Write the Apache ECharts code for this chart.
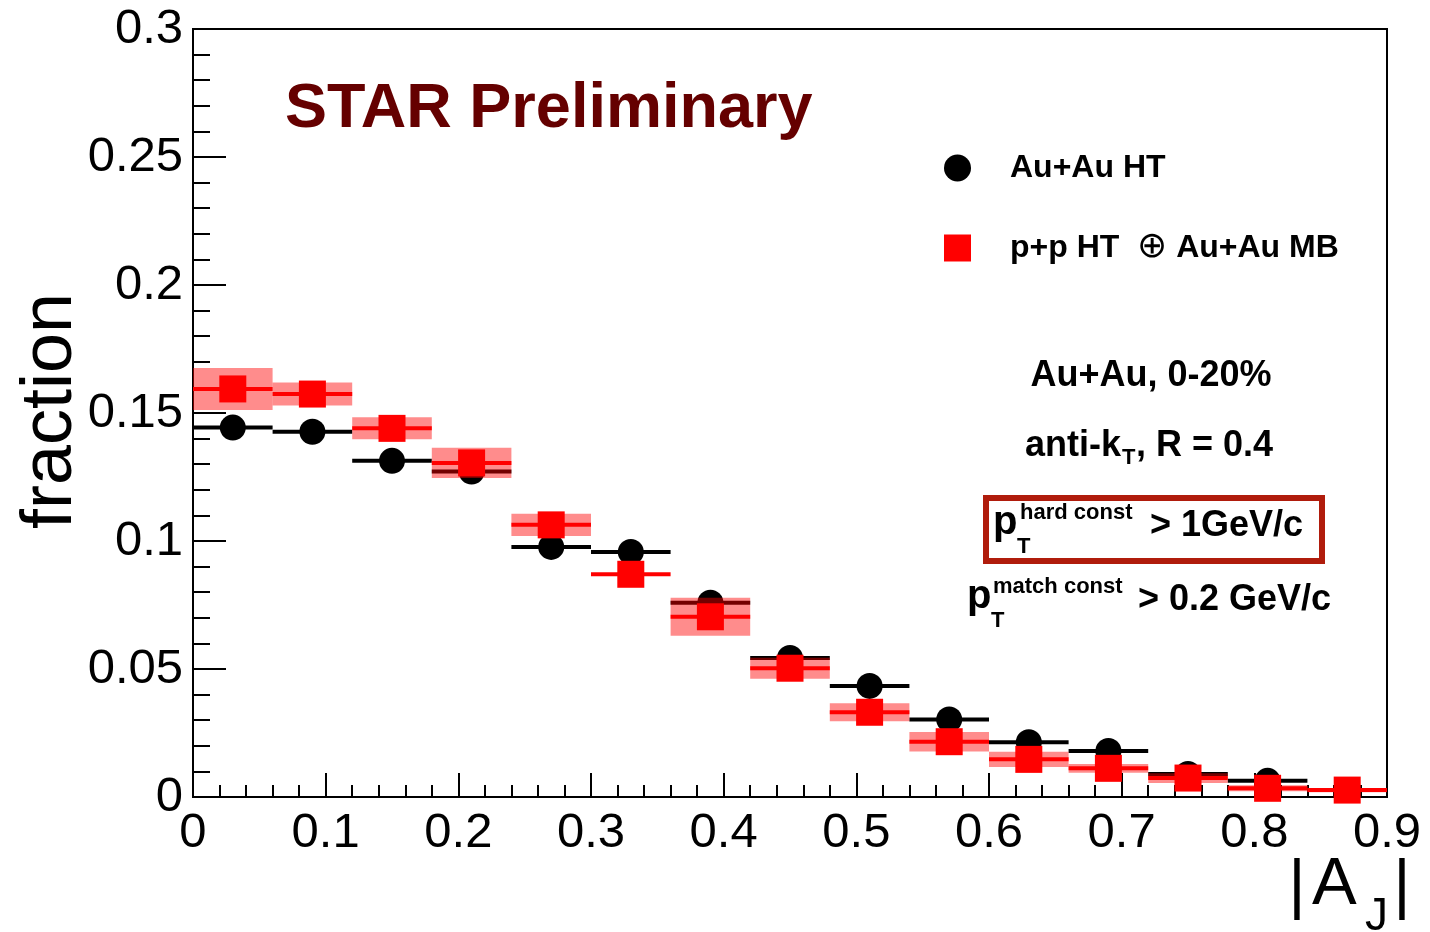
<!DOCTYPE html>
<html>
<head>
<meta charset="utf-8">
<title>|A_J| distribution</title>
<script src="https://cdn.jsdelivr.net/npm/echarts@6/dist/echarts.min.js"></script>
<style>
  html, body { margin: 0; padding: 0; background: #fff; }
  #chart { width: 1430px; height: 932px; }
</style>
</head>
<body>
<div id="chart"></div>
<script>
// |A_J| bin edges (width 0.06)
const binEdges = [0, 0.06, 0.12, 0.18, 0.24, 0.30, 0.36, 0.42, 0.48, 0.54, 0.60, 0.66, 0.72, 0.78, 0.84, 0.90];

// Au+Au HT fraction per bin
const auauHT = [0.1443, 0.1427, 0.1313, 0.1271, 0.0977, 0.0957, 0.0759, 0.0543, 0.0434, 0.0303, 0.0214, 0.0180, 0.0090, 0.0063, 0.0027];

// p+p HT embedded in Au+Au MB fraction per bin, with systematic half-widths
const ppEmbed = [0.1594, 0.1574, 0.1440, 0.1305, 0.1063, 0.0870, 0.0704, 0.0503, 0.0331, 0.0216, 0.0147, 0.0112, 0.0074, 0.0034, 0.0027];
const ppEmbedSys = [0.0082, 0.0045, 0.0043, 0.0059, 0.0043, 0.0, 0.0074, 0.0041, 0.0035, 0.0038, 0.0030, 0.0017, 0.0019, 0.0012, 0.0008];

// tick labels
const xTickLabels = ['0', '0.1', '0.2', '0.3', '0.4', '0.5', '0.6', '0.7', '0.8', '0.9'];
const yTickLabels = ['0', '0.05', '0.1', '0.15', '0.2', '0.25', '0.3'];

const seriesNames = ['Au+Au HT', 'p+p HT  \u2295 Au+Au MB'];

const FONT = '"Liberation Sans", Helvetica, Arial, sans-serif';

// rows: [xLow, xHigh, value, sys]
function binRows(values, sys) {
  return values.map((v, i) => [binEdges[i], binEdges[i + 1], v, sys ? sys[i] : 0]);
}
function centerPoints(values) {
  return values.map((v, i) => [(binEdges[i] + binEdges[i + 1]) / 2, v]);
}

function hLine(color) {
  return function (params, api) {
    const a = api.coord([api.value(0), api.value(2)]);
    const b = api.coord([api.value(1), api.value(2)]);
    return {
      type: 'line',
      shape: { x1: a[0], y1: a[1], x2: b[0], y2: b[1] },
      style: { stroke: color, lineWidth: 4 }
    };
  };
}

function sysBox(params, api) {
  const s = api.value(3);
  if (!s) return null;
  const tl = api.coord([api.value(0), api.value(2) + s]);
  const br = api.coord([api.value(1), api.value(2) - s]);
  return {
    type: 'rect',
    shape: { x: tl[0], y: tl[1], width: br[0] - tl[0], height: br[1] - tl[1] },
    style: { fill: 'rgba(255,0,0,0.45)' }
  };
}

function txt(x, y, text, size, opts) {
  opts = opts || {};
  return {
    type: 'text', x: x, y: y, z: 100,
    rotation: opts.rotation || 0,
    style: {
      text: text,
      fontFamily: opts.family || FONT,
      fontSize: size,
      fontWeight: opts.weight || 'bold',
      fill: opts.color || '#000',
      align: opts.align || 'left',
      verticalAlign: 'middle'
    }
  };
}

const chart = echarts.init(document.getElementById('chart'), null, { renderer: 'canvas' });

chart.setOption({
  animation: false,
  backgroundColor: '#fff',
  grid: {
    left: 193, top: 29, right: 43, bottom: 135,
    show: true, borderColor: '#000', borderWidth: 2, backgroundColor: 'transparent'
  },
  xAxis: {
    type: 'value', min: 0, max: 0.9, interval: 0.1,
    axisLine: { lineStyle: { color: '#000', width: 2 } },
    axisTick: { inside: true, length: 24, lineStyle: { color: '#000', width: 2 } },
    minorTick: { show: true, splitNumber: 5, length: 12, lineStyle: { color: '#000', width: 2 } },
    splitLine: { show: false },
    axisLabel: {
      fontFamily: FONT, fontSize: 49, color: '#000', margin: 12,
      showMinLabel: true, showMaxLabel: true,
      formatter: v => xTickLabels[Math.round(v * 10)]
    }
  },
  yAxis: {
    type: 'value', min: 0, max: 0.3, interval: 0.05,
    axisLine: { lineStyle: { color: '#000', width: 2 } },
    axisTick: { inside: true, length: 33, lineStyle: { color: '#000', width: 2 } },
    minorTick: { show: true, splitNumber: 5, length: 17, lineStyle: { color: '#000', width: 2 } },
    splitLine: { show: false },
    axisLabel: {
      fontFamily: FONT, fontSize: 49, color: '#000', margin: 10,
      showMinLabel: true, showMaxLabel: true,
      formatter: v => yTickLabels[Math.round(v / 0.05)]
    }
  },
  legend: {
    orient: 'vertical', left: 939, top: 147,
    itemWidth: 27, itemHeight: 27, itemGap: 46,
    selectedMode: false,
    data: [{ name: seriesNames[0], icon: 'circle' }, { name: seriesNames[1], icon: 'rect' }],
    formatter: n => n.replace('\u2295', '{o|\u2295}'),
    textStyle: {
      fontFamily: FONT, fontSize: 32, fontWeight: 'bold', color: '#000',
      lineHeight: 27, padding: [0, 0, 0, 34],
      rich: { o: { fontFamily: '"DejaVu Sans", sans-serif', fontWeight: 'normal', fontSize: 36, lineHeight: 27 } }
    }
  },
  series: [
    {
      name: 'auau-bins', type: 'custom', z: 2, silent: true,
      encode: { x: [0, 1], y: 2 },
      data: binRows(auauHT), renderItem: hLine('#000')
    },
    {
      name: seriesNames[0], type: 'scatter', z: 3, silent: true,
      symbol: 'circle', symbolSize: 26,
      itemStyle: { color: '#000', opacity: 1 },
      data: centerPoints(auauHT)
    },
    {
      name: 'pp-sys', type: 'custom', z: 4, silent: true,
      encode: { x: [0, 1], y: 2 },
      data: binRows(ppEmbed, ppEmbedSys), renderItem: sysBox
    },
    {
      name: 'pp-bins', type: 'custom', z: 5, silent: true,
      encode: { x: [0, 1], y: 2 },
      data: binRows(ppEmbed), renderItem: hLine('#ff0000')
    },
    {
      name: seriesNames[1], type: 'scatter', z: 6, silent: true,
      symbol: 'rect', symbolSize: 27,
      itemStyle: { color: '#ff0000', opacity: 1 },
      data: centerPoints(ppEmbed)
    }
  ],
  graphic: [
    txt(285, 110, 'STAR Preliminary', 63, { color: '#650000' }),
    txt(51, 411, 'fraction', 72, { weight: 'normal', align: 'center', rotation: Math.PI / 2 }),
    // |A_J| axis title
    txt(1297, 888, '|', 67, { weight: 'normal', align: 'center' }),
    txt(1312, 886, 'A', 67, { weight: 'normal' }),
    txt(1365, 917, 'J', 46, { weight: 'normal' }),
    txt(1402, 888, '|', 67, { weight: 'normal', align: 'center' }),
    // selection annotations
    txt(1151, 376, 'Au+Au, 0-20%', 36, { align: 'center' }),
    txt(1025, 446, 'anti-k', 36),
    txt(1122, 458, 'T', 22),
    txt(1136, 446, ', R = 0.4', 36),
    {
      type: 'rect', z: 100,
      shape: { x: 986, y: 498, width: 336, height: 63 },
      style: { fill: 'none', stroke: '#b01c0c', lineWidth: 6 }
    },
    txt(993, 523, 'p', 40),
    txt(1017, 547, 'T', 22),
    txt(1020, 513, 'hard const', 22),
    txt(1150, 526, '> 1GeV/c', 36),
    txt(967, 597, 'p', 40),
    txt(991, 621, 'T', 22),
    txt(993, 587, 'match const', 22),
    txt(1138, 600, '> 0.2 GeV/c', 36)
  ]
});
</script>
</body>
</html>
